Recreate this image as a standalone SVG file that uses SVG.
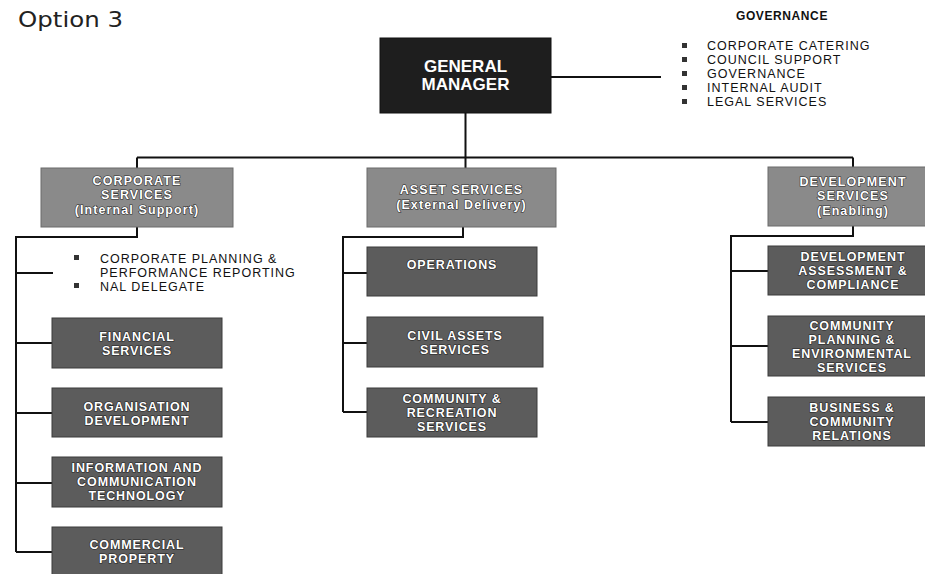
<svg xmlns="http://www.w3.org/2000/svg" width="925" height="574" viewBox="0 0 925 574">
<style>
.title{font-family:"DejaVu Sans",sans-serif;font-size:21px;fill:#222}
.hd{font-family:"Liberation Sans",Arial,sans-serif;font-size:12px;font-weight:bold;fill:#111;text-anchor:middle;letter-spacing:0.6px}
.li{font-family:"Liberation Sans",Arial,sans-serif;font-size:12.5px;fill:#111;letter-spacing:1px}
.gm{fill:#1e1e1e;stroke:#111;stroke-width:1}
.l2{fill:#8a8a8a;stroke:#6a6a6a;stroke-width:1}
.l3{fill:#5c5c5c;stroke:#3a3a3a;stroke-width:1}
.gt{font-family:"Liberation Sans",Arial,sans-serif;font-size:17px;font-weight:bold;fill:#fff;text-anchor:middle}
.bt{font-family:"Liberation Sans",Arial,sans-serif;font-size:12.5px;font-weight:bold;fill:#fff;stroke:#2a2a2a;stroke-width:1.2;paint-order:stroke;text-anchor:middle;letter-spacing:1.1px}
.st{font-family:"Liberation Sans",Arial,sans-serif;font-size:12.5px;font-weight:bold;fill:#fff;stroke:#222;stroke-width:1.2;paint-order:stroke;text-anchor:middle;letter-spacing:0.9px}
.cn{fill:none;stroke:#111;stroke-width:2}
.bl{fill:#333}
</style>
<rect width="925" height="574" fill="#fff"/>
<text class="title" x="18" y="27" textLength="105" lengthAdjust="spacingAndGlyphs">Option 3</text>

<g id="connectors">
<path class="cn" d="M551 77 H661"/>
<path class="cn" d="M465.5 112 V157.5 M137 157.5 H853 M137 157.5 V168 M465.5 157.5 V168 M853 157.5 V167"/>
<path class="cn" d="M137 227 V237 H16 V552 M16 273 H53 M16 343 H52 M16 413 H52 M16 483 H52 M16 552 H52"/>
<path class="cn" d="M463 227 V237 H343 V412 M343 273 H367 M343 343 H367 M343 412 H367"/>
<path class="cn" d="M853 226 V236 H731 V422 M731 271 H768 M731 346 H768 M731 422 H768"/>
</g>

<g id="general-manager">
<rect class="gm" x="380" y="38" width="171" height="75"/>
<text class="gt" x="465.5" y="72">GENERAL</text>
<text class="gt" x="465.5" y="90">MANAGER</text>
</g>

<g id="governance">
<text class="hd" x="782" y="20">GOVERNANCE</text>
<rect class="bl" x="682" y="43" width="5" height="5"/>
<rect class="bl" x="682" y="57" width="5" height="5"/>
<rect class="bl" x="682" y="71" width="5" height="5"/>
<rect class="bl" x="682" y="85" width="5" height="5"/>
<rect class="bl" x="682" y="99" width="5" height="5"/>
<text class="li" x="707" y="50">CORPORATE CATERING</text>
<text class="li" x="707" y="64">COUNCIL SUPPORT</text>
<text class="li" x="707" y="78">GOVERNANCE</text>
<text class="li" x="707" y="92">INTERNAL AUDIT</text>
<text class="li" x="707" y="106">LEGAL SERVICES</text>
</g>

<g id="corporate-services">
<rect class="l2" x="41" y="168" width="192" height="59"/>
<text class="bt" x="137" y="185">CORPORATE</text>
<text class="bt" x="137" y="199">SERVICES</text>
<text class="bt" x="137" y="214">(Internal Support)</text>
</g>

<g id="corporate-list">
<rect class="bl" x="74" y="255" width="5" height="5"/>
<rect class="bl" x="74" y="283" width="5" height="5"/>
<text class="li" x="100" y="263">CORPORATE PLANNING &amp;</text>
<text class="li" x="100" y="276.5">PERFORMANCE REPORTING</text>
<text class="li" x="100" y="290.5">NAL DELEGATE</text>
</g>

<g id="financial-services">
<rect class="l3" x="52" y="318" width="170" height="50"/>
<text class="st" x="137" y="341">FINANCIAL</text>
<text class="st" x="137" y="355">SERVICES</text>
</g>
<g id="organisation-development">
<rect class="l3" x="52" y="388" width="170" height="49"/>
<text class="st" x="137" y="411">ORGANISATION</text>
<text class="st" x="137" y="425">DEVELOPMENT</text>
</g>
<g id="ict">
<rect class="l3" x="52" y="457" width="170" height="50"/>
<text class="st" x="137" y="472">INFORMATION AND</text>
<text class="st" x="137" y="486">COMMUNICATION</text>
<text class="st" x="137" y="500">TECHNOLOGY</text>
</g>
<g id="commercial-property">
<rect class="l3" x="52" y="527" width="170" height="52"/>
<text class="st" x="137" y="549">COMMERCIAL</text>
<text class="st" x="137" y="563">PROPERTY</text>
</g>

<g id="asset-services">
<rect class="l2" x="367" y="168" width="189" height="59"/>
<text class="bt" x="461.5" y="194">ASSET SERVICES</text>
<text class="bt" x="461.5" y="209">(External Delivery)</text>
</g>
<g id="operations">
<rect class="l3" x="367" y="247" width="170" height="49"/>
<text class="st" x="452" y="269">OPERATIONS</text>
</g>
<g id="civil-assets">
<rect class="l3" x="367" y="317" width="176" height="50"/>
<text class="st" x="455" y="340">CIVIL ASSETS</text>
<text class="st" x="455" y="354">SERVICES</text>
</g>
<g id="community-recreation">
<rect class="l3" x="367" y="388" width="170" height="49"/>
<text class="st" x="452" y="403">COMMUNITY &amp;</text>
<text class="st" x="452" y="417">RECREATION</text>
<text class="st" x="452" y="431">SERVICES</text>
</g>

<g id="development-services">
<rect class="l2" x="768" y="167" width="172" height="59"/>
<text class="bt" x="853" y="186">DEVELOPMENT</text>
<text class="bt" x="853" y="200">SERVICES</text>
<text class="bt" x="853" y="215">(Enabling)</text>
</g>
<g id="development-assessment">
<rect class="l3" x="768" y="246" width="172" height="49"/>
<text class="st" x="853" y="261">DEVELOPMENT</text>
<text class="st" x="853" y="275">ASSESSMENT &amp;</text>
<text class="st" x="853" y="289">COMPLIANCE</text>
</g>
<g id="community-planning">
<rect class="l3" x="768" y="316" width="172" height="60"/>
<text class="st" x="852" y="330">COMMUNITY</text>
<text class="st" x="852" y="344">PLANNING &amp;</text>
<text class="st" x="852" y="358">ENVIRONMENTAL</text>
<text class="st" x="852" y="372">SERVICES</text>
</g>
<g id="business-community">
<rect class="l3" x="768" y="397" width="172" height="49"/>
<text class="st" x="852" y="412">BUSINESS &amp;</text>
<text class="st" x="852" y="426">COMMUNITY</text>
<text class="st" x="852" y="440">RELATIONS</text>
</g>
</svg>
